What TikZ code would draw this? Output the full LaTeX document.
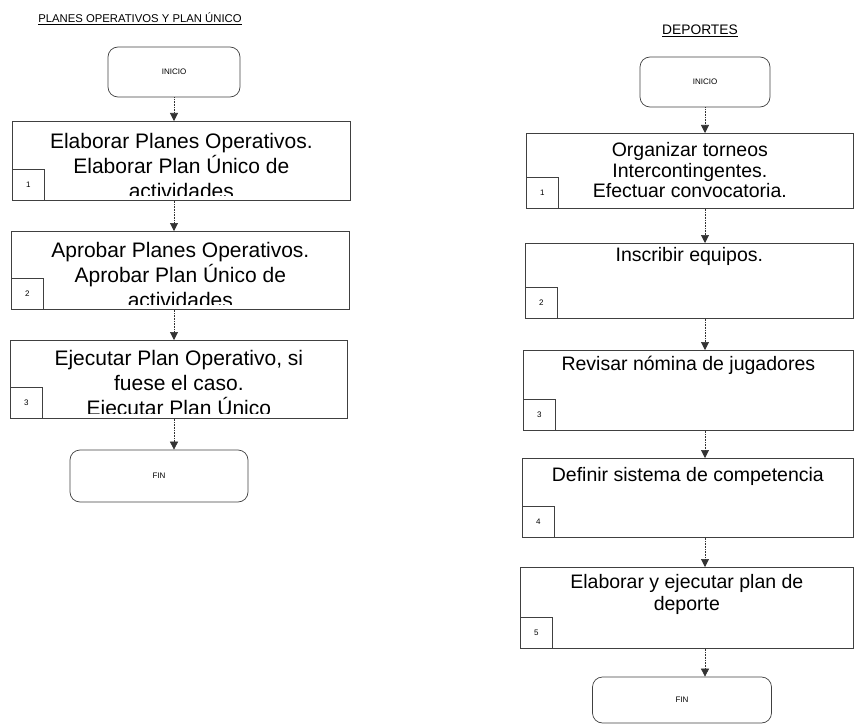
\documentclass[tikz,border=0pt]{standalone}
\usepackage{fontspec}
\setmainfont{Liberation Sans}
\usetikzlibrary{positioning, arrows.meta}
\tikzset{
  >={Triangle[width=8pt,length=8pt]}, % small filled heads
  flow/.style={->, densely dotted, draw=black!80, line width=0.6pt},
  terminal/.style={draw=black!75, line width=0.7pt, rounded corners=10pt, font=\fontsize{8}{8}\selectfont},
  stepbox/.style={draw=black!75, line width=0.7pt, anchor=north west, inner sep=0pt},
  numbox/.style={draw=black!75, line width=0.6pt, anchor=south west, minimum width=32pt, minimum height=31pt, inner sep=0pt, font=\fontsize{8}{8}\selectfont},
  steptext/.style={align=center, inner sep=0pt, anchor=north, font=\fontsize{21}{25}\selectfont},
  steptextB/.style={steptext, font=\fontsize{19.5}{20.5}\selectfont},
}

\begin{document}
\begin{tikzpicture}[x=1pt, y=-1pt]
  \useasboundingbox (0,0) rectangle (855,725);

  % left column
  \node[font=\fontsize{11.3}{13}\selectfont] (ttlA) at (140,19) {\underline{PLANES OPERATIVOS Y PLAN ÚNICO}};
  \node[terminal, minimum width=132pt, minimum height=50pt] (iniA) at (174,72) {INICIO};

  \node[stepbox, minimum width=338pt, minimum height=79pt] (pA1) at (12,121) {};
  \node[stepbox, minimum width=338pt, minimum height=78pt] (pA2) at (11,231) {};
  \node[stepbox, minimum width=337pt, minimum height=78pt] (pA3) at (10,340) {};
  \begin{scope}
    \clip ([yshift=5pt]pA1.south west) rectangle (pA1.north east);
    \node[steptext, below=12pt of pA1.north] (tA1) {Elaborar Planes Operativos.\\Elaborar Plan Único de\\actividades};
  \end{scope}
  \begin{scope}
    \clip ([yshift=5pt]pA2.south west) rectangle (pA2.north east);
    \node[steptext, below=11pt of pA2.north] (tA2) {Aprobar Planes Operativos.\\Aprobar Plan Único de\\actividades};
  \end{scope}
  \begin{scope}
    \clip ([yshift=5pt]pA3.south west) rectangle (pA3.north east);
    \node[steptext, below=10pt of pA3.north] (tA3) {Ejecutar Plan Operativo, si\\fuese el caso.\\Ejecutar Plan Único};
  \end{scope}
  \node[numbox] (nA1) at (pA1.south west) {1};
  \node[numbox] (nA2) at (pA2.south west) {2};
  \node[numbox] (nA3) at (pA3.south west) {3};

  \node[terminal, minimum width=178pt, minimum height=52pt] (finA) at (159,476) {FIN};

  \draw[flow] (iniA.south) -- (iniA.south |- pA1.north);
  \draw[flow] (pA1.south -| iniA.south) -- (pA2.north -| iniA.south);
  \draw[flow] (pA2.south -| iniA.south) -- (pA3.north -| iniA.south);
  \draw[flow] (pA3.south -| iniA.south) -- (finA.north -| iniA.south);

  % right column
  \node[font=\fontsize{13.8}{15}\selectfont] (ttlB) at (700,31) {\underline{DEPORTES}};
  \node[terminal, minimum width=130pt, minimum height=50pt] (iniB) at (705,82) {INICIO};

  \node[stepbox, minimum width=327pt, minimum height=75pt] (pB1) at (526,133) {};
  \node[stepbox, minimum width=328pt, minimum height=75pt] (pB2) at (525,243) {};
  \node[stepbox, minimum width=330pt, minimum height=80pt] (pB3) at (523,350) {};
  \node[stepbox, minimum width=331pt, minimum height=79pt] (pB4) at (522,458) {};
  \node[stepbox, minimum width=333pt, minimum height=81pt] (pB5) at (520,567) {};
  \node[steptextB, below=9.5pt of pB1.north] (tB1) {Organizar torneos\\Intercontingentes.\\Efectuar convocatoria.};
  \node[steptextB, below=4.5pt of pB2.north] (tB2) {Inscribir equipos.};
  \node[steptextB, below=5.5pt of pB3.north] (tB3) {Revisar nómina de jugadores};
  \node[steptextB, below=9.5pt of pB4.north] (tB4) {Definir sistema de competencia};
  \node[steptextB, below=7.5pt of pB5.north, font=\fontsize{19.5}{22}\selectfont] (tB5) {Elaborar y ejecutar plan de\\deporte};
  \node[numbox] (nB1) at (pB1.south west) {1};
  \node[numbox] (nB2) at (pB2.south west) {2};
  \node[numbox] (nB3) at (pB3.south west) {3};
  \node[numbox] (nB4) at (pB4.south west) {4};
  \node[numbox] (nB5) at (pB5.south west) {5};

  \node[terminal, minimum width=179pt, minimum height=46pt] (finB) at (682,700) {FIN};

  \draw[flow] (iniB.south) -- (iniB.south |- pB1.north);
  \draw[flow] (pB1.south -| iniB.south) -- (pB2.north -| iniB.south);
  \draw[flow] (pB2.south -| iniB.south) -- (pB3.north -| iniB.south);
  \draw[flow] (pB3.south -| iniB.south) -- (pB4.north -| iniB.south);
  \draw[flow] (pB4.south -| iniB.south) -- (pB5.north -| iniB.south);
  \draw[flow] (pB5.south -| iniB.south) -- (finB.north -| iniB.south);
\end{tikzpicture}
\end{document}
